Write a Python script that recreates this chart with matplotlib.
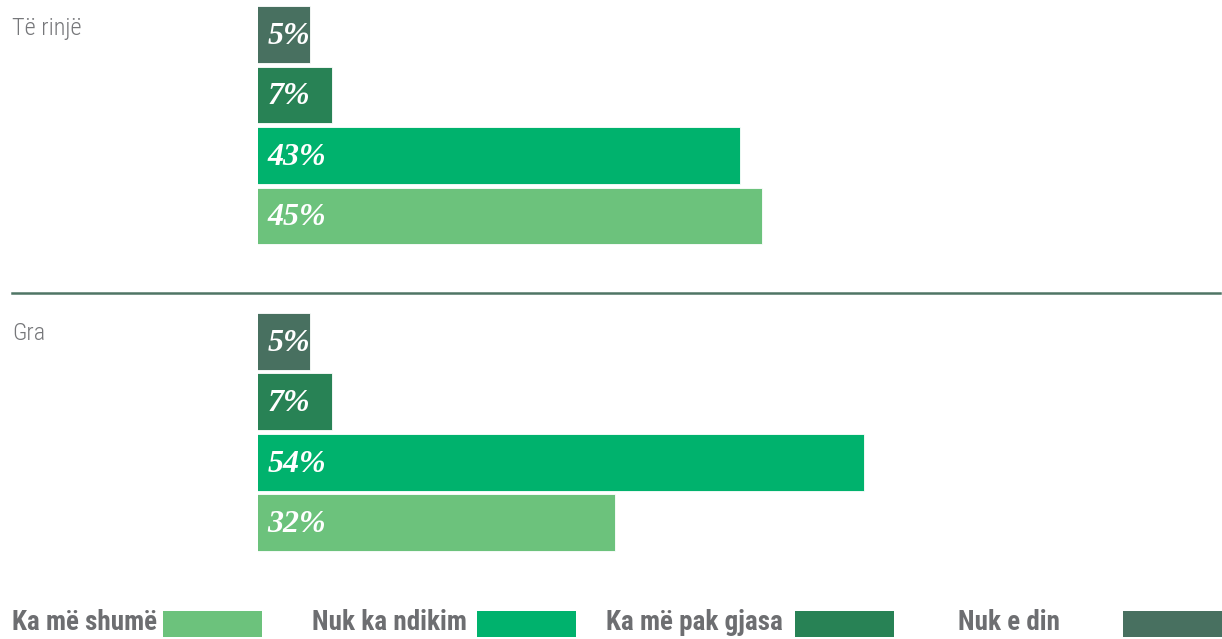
import matplotlib
matplotlib.use("Agg")
import matplotlib.pyplot as plt
from matplotlib.patches import Rectangle
from matplotlib.lines import Line2D

# Data
groups = ["Të rinjë", "Gra"]
series = ["Nuk e din", "Ka më pak gjasa", "Nuk ka ndikim", "Ka më shumë"]  # top to bottom within a group
values = {
    "Të rinjë": [5, 7, 43, 45],
    "Gra": [5, 7, 54, 32],
}
legend_order = ["Ka më shumë", "Nuk ka ndikim", "Ka më pak gjasa", "Nuk e din"]
colors = {
    "Ka më shumë": "#6cc27c",
    "Nuk ka ndikim": "#00b26d",
    "Ka më pak gjasa": "#288255",
    "Nuk e din": "#487060",
}

W, H = 1222, 639
fig = plt.figure(figsize=(W / 100, H / 100), dpi=100)

def fx(px):
    return px / W

def fy(py):
    return 1 - py / H

# Axes spans the bar area: left edge at 258 px, top of figure down to 560 px
ax = fig.add_axes([fx(258), fy(560), fx(W - 258), 560 / H])
ax.set_axis_off()

row = 60.5          # pixels per row
group_gap = 5.07    # rows between group starts
bar_h = 0.94

for gi, g in enumerate(groups):
    for si, s in enumerate(series):
        y = gi * group_gap + si
        v = values[g][si]
        ax.barh(y, v, height=bar_h, color=colors[s], edgecolor="white", linewidth=0.6)
        ax.text(0.45 + 0.85, y + 0.03, f"{v}%", ha="left", va="center", color="white",
                fontsize=23, fontstyle="italic", fontweight="bold",
                family=["Liberation Serif", "DejaVu Serif"])

x0 = 0.45
ax.set_xlim(x0, x0 + (W - 258) / 11.32)
top = -34.5 / row
ax.set_ylim(top + 560 / row, top)

label_font = ["Roboto Condensed", "DejaVu Sans"]
fig.text(fx(12), fy(28), groups[0], ha="left", va="center", fontsize=17.5,
         color="#76777a", family=label_font, fontweight="light", fontstretch="condensed")
fig.text(fx(12), fy(334), groups[1], ha="left", va="center", fontsize=17.5,
         color="#76777a", family=label_font, fontweight="light", fontstretch="condensed")

# Separator between groups
fig.add_artist(Line2D([fx(12), fx(1220)], [fy(293), fy(293)], color="#4f7565", linewidth=1.8))

# Legend along the bottom
text_x = [12, 312, 606, 958]
patch_x = [163, 477, 795, 1123]
for name, tx, px in zip(legend_order, text_x, patch_x):
    fig.text(fx(tx), fy(623), name, ha="left", va="center", fontsize=19.5,
             fontweight="bold", color="#6d6e71", family=label_font, fontstretch="condensed")
    fig.add_artist(Rectangle((fx(px), fy(637)), fx(99), 26 / H,
                             transform=fig.transFigure, color=colors[name], linewidth=0))

fig.savefig("out.png", dpi=100)
